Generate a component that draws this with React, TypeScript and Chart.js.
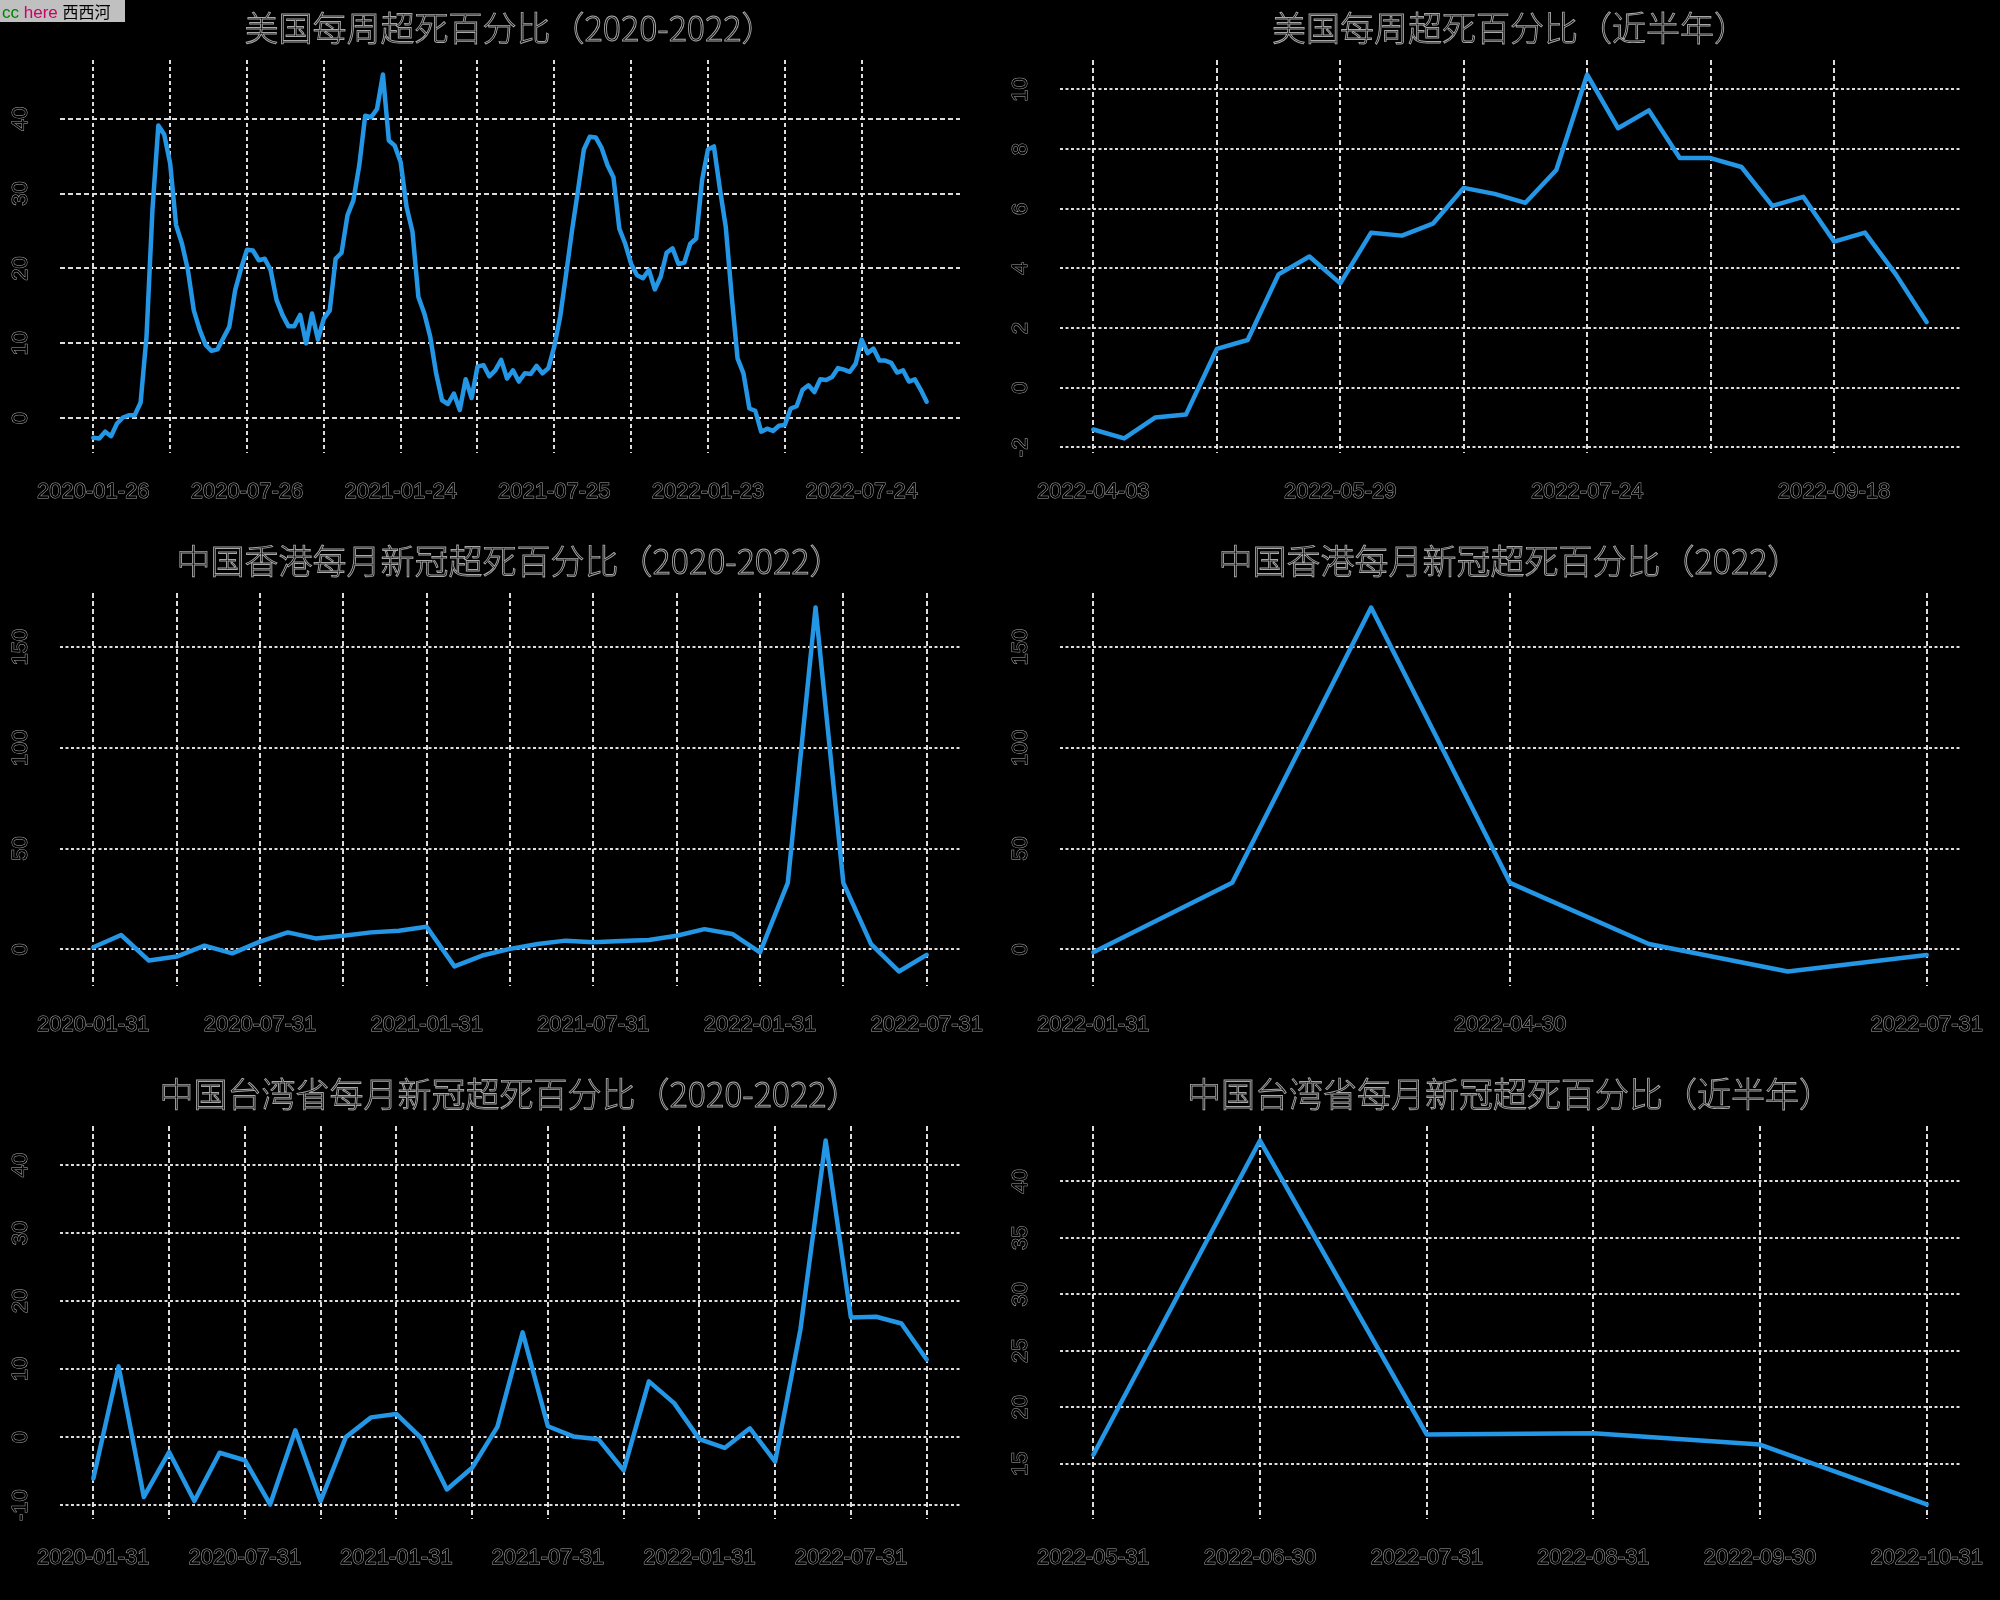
import React, { useEffect, useRef } from 'react';
import { Chart, registerables } from 'chart.js';

Chart.register(...registerables);

// ---------- data ----------
// US weekly excess death % from 2020-01-26 (weekly)
const usWeekly = [
  -2.6, -2.7, -1.8, -2.4, -0.7, 0.1, 0.4, 0.4, 2.1, 10.9,
  27.8, 39.1, 37.9, 34.0, 25.8, 23.3, 19.8, 14.4, 11.8, 9.8,
  9.0, 9.2, 10.7, 12.2, 17.1, 20.0, 22.5, 22.4, 21.1, 21.3,
  19.8, 15.8, 13.8, 12.3, 12.3, 13.8, 10.0, 14.0, 10.5, 13.3,
  14.4, 21.3, 22.1, 27.1, 29.1, 33.8, 40.4, 40.2, 41.3, 45.9,
  37.1, 36.4, 34.2, 28.2, 24.9, 16.2, 14.0, 10.9, 6.0, 2.4,
  1.9, 3.3, 1.1, 5.2, 2.7, 6.9, 7.1, 5.6, 6.4, 7.8,
  5.3, 6.4, 4.9, 6.0, 5.9, 7.0, 6.0, 6.7, 9.6, 13.6,
  19.3, 25.1, 30.4, 35.9, 37.6, 37.5, 36.1, 33.8, 32.2, 25.3,
  23.3, 20.6, 19.1, 18.7, 19.8, 17.2, 18.9, 22.1, 22.7, 20.6,
  20.8, 23.3, 24.0, 31.8, 35.9, 36.3, 30.7, 25.6, 16.4, 8.0,
  6.0, 1.3, 1.0, -1.8,
  -1.4, -1.7, -1.0, -0.9, 1.3, 1.6, 3.8, 4.4, 3.5, 5.2,
  5.1, 5.5, 6.7, 6.5, 6.2, 7.3, 10.5, 8.7, 9.3, 7.7,
  7.7, 7.4, 6.1, 6.4, 4.9, 5.2, 3.8, 2.2,
];
const usRecentWeeks = 28;

// Hong Kong monthly excess death % from 2020-01 (month end)
const hkMonthly = [
  1.0, 7.1, -5.6, -3.6, 1.8, -2.0, 3.8, 8.4, 5.4, 6.7,
  8.4, 9.2, 11.2, -8.5, -3.1, 0.2, 2.6, 4.3, 3.5, 4.1,
  4.6, 6.7, 10.0, 7.6, -1.5, 33.0, 169.7, 33.0, 2.6, -11.0,
  -2.8,
];
const hkRecentMonths = 7;

// Taiwan monthly excess death % from 2020-01 (month end)
const twMonthly = [
  -6.1, 10.4, -8.8, -2.2, -9.4, -2.3, -3.4, -9.9, 1.0, -9.4,
  0.0, 2.9, 3.4, -0.2, -7.7, -4.5, 1.5, 15.4, 1.6, 0.1,
  -0.3, -4.9, 8.2, 5.0, -0.3, -1.6, 1.3, -3.6, 15.8, 43.6,
  17.6, 17.7, 16.7, 11.4,
];
const twRecentMonths = 6;

// tick labels
const usAllTickLabels = ['2020-01-26', '2020-07-26', '2021-01-24', '2021-07-25', '2022-01-23', '2022-07-24'];
const usRecentTickLabels = ['2022-04-03', '2022-05-29', '2022-07-24', '2022-09-18'];
const hkAllTickLabels = ['2020-01-31', '2020-07-31', '2021-01-31', '2021-07-31', '2022-01-31', '2022-07-31'];
const hkRecentTickLabels = ['2022-01-31', '2022-04-30', '2022-07-31'];
const twAllTickLabels = ['2020-01-31', '2020-07-31', '2021-01-31', '2021-07-31', '2022-01-31', '2022-07-31'];
const twRecentTickLabels = ['2022-05-31', '2022-06-30', '2022-07-31', '2022-08-31', '2022-09-30', '2022-10-31'];

const usAllYTicks = [0, 10, 20, 30, 40];
const usRecentYTicks = [-2, 0, 2, 4, 6, 8, 10];
const hkYTicks = [0, 50, 100, 150];
const twAllYTicks = [-10, 0, 10, 20, 30, 40];
const twRecentYTicks = [15, 20, 25, 30, 35, 40];

// ---------- helpers ----------
const fmt = (d: Date) =>
  `${d.getUTCFullYear()}-${String(d.getUTCMonth() + 1).padStart(2, '0')}-${String(d.getUTCDate()).padStart(2, '0')}`;
const weekDates = (y: number, m: number, d: number, n: number) =>
  Array.from({ length: n }, (_, i) => fmt(new Date(Date.UTC(y, m, d + 7 * i))));
const monthEnds = (y: number, m: number, n: number) =>
  Array.from({ length: n }, (_, i) => fmt(new Date(Date.UTC(y, m + i + 1, 0))));

const usDates = weekDates(2020, 0, 26, usWeekly.length);
const hkDates = monthEnds(2020, 0, hkMonthly.length);
const twDates = monthEnds(2020, 0, twMonthly.length);

const LINE = 'rgb(35,150,230)';
const GRID = '#dcdcdc';
const STROKE = '#a8a8a8';
const TICK_FONT = '"Liberation Sans", Arial, sans-serif';

type Cfg = {
  title: string;
  values: number[];
  dates: string[];
  tickLabels: string[];
  gridStep: number;
  yTicks: number[];
  hDash: number[];
  vDash: number[];
};

const panels: Cfg[] = [
  { title: '美国每周超死百分比（2020-2022）', values: usWeekly, dates: usDates, tickLabels: usAllTickLabels, gridStep: 13, yTicks: usAllYTicks, hDash: [5, 3], vDash: [4, 3] },
  { title: '美国每周超死百分比（近半年）', values: usWeekly.slice(-usRecentWeeks), dates: usDates.slice(-usRecentWeeks), tickLabels: usRecentTickLabels, gridStep: 4, yTicks: usRecentYTicks, hDash: [3, 2.5], vDash: [5, 3] },
  { title: '中国香港每月新冠超死百分比（2020-2022）', values: hkMonthly, dates: hkDates, tickLabels: hkAllTickLabels, gridStep: 3, yTicks: hkYTicks, hDash: [3, 2.5], vDash: [5, 3] },
  { title: '中国香港每月新冠超死百分比（2022）', values: hkMonthly.slice(-hkRecentMonths), dates: hkDates.slice(-hkRecentMonths), tickLabels: hkRecentTickLabels, gridStep: 3, yTicks: hkYTicks, hDash: [3, 2.5], vDash: [5, 3] },
  { title: '中国台湾省每月新冠超死百分比（2020-2022）', values: twMonthly, dates: twDates, tickLabels: twAllTickLabels, gridStep: 3, yTicks: twAllYTicks, hDash: [3, 2.5], vDash: [5, 3] },
  { title: '中国台湾省每月新冠超死百分比（近半年）', values: twMonthly.slice(-twRecentMonths), dates: twDates.slice(-twRecentMonths), tickLabels: twRecentTickLabels, gridStep: 1, yTicks: twRecentYTicks, hDash: [3, 2.5], vDash: [5, 3] },
];

const rotatedYLabels = {
  id: 'rotatedYLabels',
  afterDraw(chart: any) {
    const s = chart.scales.y;
    const ctx = chart.ctx;
    ctx.save();
    ctx.font = `22px ${TICK_FONT}`;
    ctx.textAlign = 'center';
    ctx.textBaseline = 'middle';
    ctx.lineWidth = 1;
    ctx.strokeStyle = STROKE;
    ctx.fillStyle = '#000';
    s.ticks.forEach((t: any) => {
      const y = s.getPixelForValue(t.value);
      const label = String(t.value);
      ctx.save();
      ctx.translate(21, y);
      ctx.rotate(-Math.PI / 2);
      ctx.strokeText(label, 0, 0);
      ctx.fillText(label, 0, 0);
      ctx.restore();
    });
    ctx.restore();
  },
};

const W = 1000;
const H = 533;

function Panel({ cfg, left, top }: { cfg: Cfg; left: number; top: number }) {
  const ref = useRef<HTMLCanvasElement>(null);
  useEffect(() => {
    const n = cfg.values.length;
    const xPad = 0.04 * (n - 1);
    const ymin = Math.min(...cfg.values);
    const ymax = Math.max(...cfg.values);
    const yPad = 0.04 * (ymax - ymin);
    const xTicks: number[] = [];
    for (let k = 0; k < n; k += cfg.gridStep) xTicks.push(k);

    const chart = new Chart(ref.current as HTMLCanvasElement, {
      type: 'line',
      data: {
        datasets: [
          {
            data: cfg.values.map((v, i) => ({ x: i, y: v })),
            borderColor: LINE,
            borderWidth: 4.5,
            pointRadius: 0,
            tension: 0,
            fill: false,
            borderJoinStyle: 'round',
            borderCapStyle: 'round',
          },
        ],
      },
      options: {
        animation: false,
        responsive: false,
        events: [],
        layout: { padding: { left: 0, right: 40, top: 60, bottom: 0 } },
        plugins: {
          legend: { display: false },
          tooltip: { enabled: false },
          title: { display: false },
        },
        scales: {
          x: {
            type: 'linear',
            min: -xPad,
            max: n - 1 + xPad,
            afterBuildTicks: (s: any) => {
              s.ticks = xTicks.map((v) => ({ value: v }));
            },
            afterFit: (s: any) => {
              s.height = 80;
              s.paddingLeft = 0;
              s.paddingRight = 0;
            },
            grid: { color: GRID, lineWidth: 2, drawTicks: false },
            border: { display: false, dash: cfg.vDash },
            ticks: {
              autoSkip: false,
              maxRotation: 0,
              minRotation: 0,
              padding: 26,
              color: '#000',
              textStrokeColor: STROKE,
              textStrokeWidth: 1,
              font: { family: TICK_FONT, size: 22 },
              callback: (v: any) => {
                const d = cfg.dates[Math.round(Number(v))];
                return cfg.tickLabels.includes(d) ? d : '';
              },
            },
          },
          y: {
            type: 'linear',
            min: ymin - yPad,
            max: ymax + yPad,
            afterBuildTicks: (s: any) => {
              s.ticks = cfg.yTicks.map((v) => ({ value: v }));
            },
            afterFit: (s: any) => {
              s.width = 60;
              s.paddingTop = 0;
              s.paddingBottom = 0;
            },
            grid: { color: GRID, lineWidth: 2, drawTicks: false },
            border: { display: false, dash: cfg.hDash },
            ticks: { display: false },
          },
        },
      } as any,
      plugins: [rotatedYLabels],
    });
    return () => chart.destroy();
  }, [cfg]);

  return (
    <div style={{ position: 'absolute', left, top, width: W, height: H }}>
      <canvas ref={ref} width={W} height={H} style={{ position: 'absolute', left: 0, top: 0 }} />
      <div
        style={{
          position: 'absolute',
          left: 0,
          top: 5,
          width: 1020,
          height: 44,
          lineHeight: '44px',
          textAlign: 'center',
          fontFamily: '"Noto Sans CJK SC", sans-serif',
          fontWeight: 300,
          fontSize: 34,
          color: '#000',
          WebkitTextStroke: `0.9px ${STROKE}`,
          whiteSpace: 'nowrap',
        }}
      >
        {cfg.title}
      </div>
    </div>
  );
}

export default function App() {
  useEffect(() => {
    document.body.style.margin = '0';
    document.body.style.background = '#000';
  }, []);
  const tops = [0, 533, 1066];
  return (
    <div style={{ position: 'absolute', left: 0, top: 0, width: 2000, height: 1600, background: '#000', overflow: 'hidden' }}>
      {panels.map((p, i) => (
        <Panel key={i} cfg={p} left={(i % 2) * 1000} top={tops[Math.floor(i / 2)]} />
      ))}
      <div
        style={{
          position: 'absolute',
          left: 0,
          top: 0,
          width: 125,
          height: 22,
          background: '#c0c0c0',
          fontSize: 17,
          lineHeight: '22px',
          fontFamily: '"Liberation Sans", Arial, sans-serif',
          whiteSpace: 'nowrap',
          paddingLeft: 2,
          boxSizing: 'border-box',
        }}
      >
        <span style={{ color: '#008000' }}>cc</span>{' '}
        <span style={{ color: '#cc0066' }}>here</span>{' '}
        <span style={{ color: '#000', fontFamily: '"Noto Sans CJK SC", sans-serif', fontSize: 16 }}>西西河</span>
      </div>
    </div>
  );
}
